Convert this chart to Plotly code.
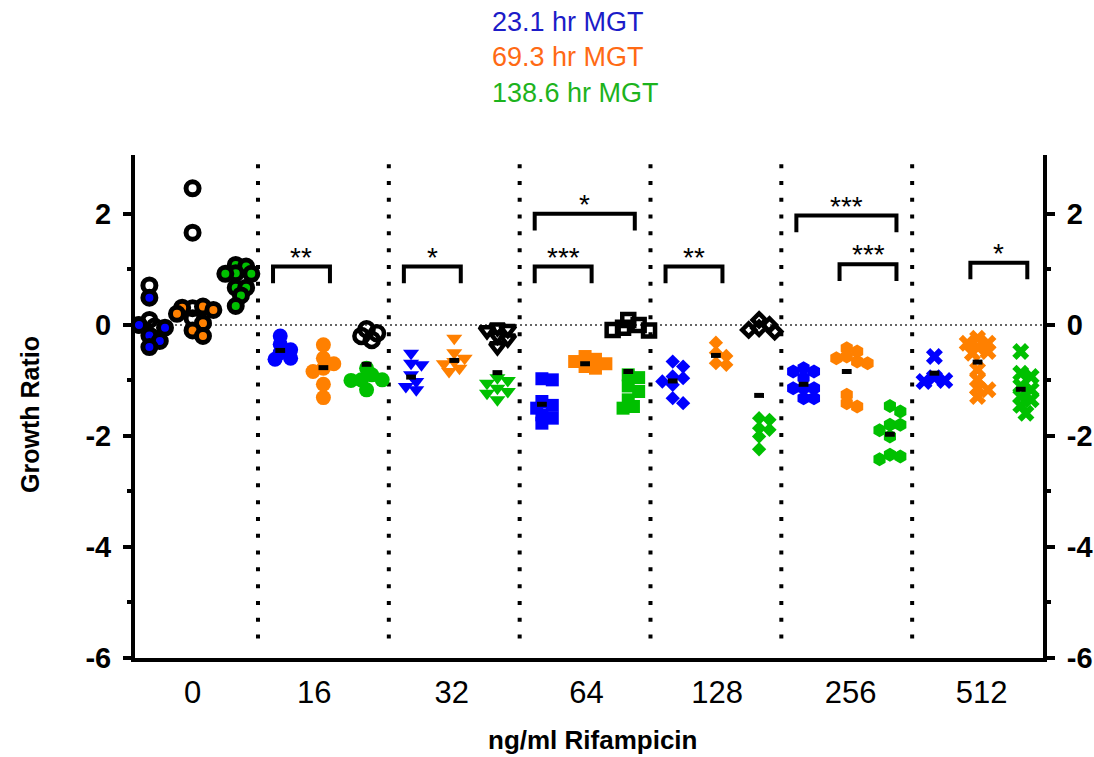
import math
import plotly.graph_objects as go

# ---------------- data ----------------
groups = ["0", "16", "32", "64", "128", "256", "512"]
group_symbols = ["circle", "circle", "triangle-down", "square", "diamond", "hexagon", "x"]

blue_vals = [
    [0.49, 0.0, -0.05, -0.19, -0.29, -0.40],
    [-0.2, -0.35, -0.45, -0.5, -0.6, -0.62],
    [-0.51, -0.69, -0.72, -0.9, -1.02, -1.11, -1.17],
    [-0.97, -0.99, -1.38, -1.45, -1.5, -1.62, -1.68, -1.77],
    [-0.66, -0.75, -0.93, -0.96, -1.02, -1.08, -1.32, -1.41],
    [-0.78, -0.84, -0.84, -0.95, -1.14, -1.14, -1.14, -1.32, -1.32],
    [-0.57, -0.95, -1.0, -1.02],
]
orange_vals = [
    [0.33, 0.31, 0.27, 0.2, 0.03, -0.1, -0.2],
    [-0.36, -0.6, -0.7, -0.78, -0.84, -1.07, -1.31],
    [-0.24, -0.5, -0.6, -0.66, -0.7, -0.78, -0.84],
    [-0.57, -0.62, -0.66, -0.7, -0.75, -0.78],
    [-0.32, -0.5, -0.56, -0.69, -0.72],
    [-0.42, -0.48, -0.57, -0.6, -0.66, -0.69, -1.26, -1.41, -1.47],
    [-0.24, -0.33, -0.33, -0.4, -0.48, -0.51, -0.81, -0.99, -1.14, -1.17, -1.29],
]
green_vals = [
    [1.08, 1.05, 0.93, 0.92, 0.92, 0.67, 0.67, 0.53, 0.34],
    [-0.78, -0.9, -0.99, -0.99, -1.0, -1.17],
    [-0.95, -1.0, -1.05, -1.14, -1.2, -1.23, -1.35],
    [-0.9, -0.95, -1.1, -1.2, -1.35, -1.47, -1.5],
    [-1.68, -1.71, -1.86, -1.89, -2.01, -2.24],
    [-1.46, -1.56, -1.8, -1.8, -1.9, -2.01, -2.34, -2.37, -2.42],
    [-0.48, -0.87, -0.93, -1.1, -1.17, -1.29, -1.35, -1.45, -1.59],
]
# black (open-marker) series
black_vals = [
    [2.46, 1.66, 0.3, 0.12],
    [-0.08, -0.15, -0.2, -0.27],
    [-0.05, -0.08, -0.1, -0.2, -0.25, -0.39],
    [0.09, 0.0, -0.05, -0.09, -0.1],
    [0.09, 0.0, -0.06, -0.09, -0.12],
    [],
    [],
]
black_slot = [1, 2, 2, 2, 2, 2, 2]
black_vals_0_first = [0.71, 0.09, -0.03]   # group "0", beside the blue points

mean_blue = [None, -0.46, -0.94, -1.43, -1.01, -1.07, -0.87]
mean_orange = [None, -0.77, -0.64, -0.70, -0.55, -0.84, -0.67]
mean_third = [None, -0.71, -0.86, -0.84, -1.27, -1.97, -1.16]

# significance brackets: (group, slot_from, slot_to, level, label)
brackets = [
    (1, 0, 1, 1.05, "**"),
    (2, 0, 1, 1.05, "*"),
    (3, 0, 2, 2.00, "*"),
    (3, 0, 1, 1.05, "***"),
    (4, 0, 1, 1.05, "**"),
    (5, 0, 2, 1.97, "***"),
    (5, 1, 2, 1.09, "***"),
    (6, 1, 2, 1.12, "*"),
]

legend_labels = ["23.1 hr MGT", "69.3 hr MGT", "138.6 hr MGT"]

# ---------------- styling / layout helpers ----------------
BLUE, ORANGE, GREEN = "#0000ff", "#ff8000", "#00c000"
LEG_COLORS = ["#1c1cc8", "#ff6a14", "#1db31d"]
FONT = "Liberation Sans"
slot_off = [0.17, 0.5, 0.83]
label_offsets = [0.5, 0.43, 0.48, 0.51, 0.51, 0.53, 0.53]
XR = [0.06, 7.0]
YR = [-6, 3.06]
PX_X = 908 / (XR[1] - XR[0])
PX_Y = 503 / (YR[1] - YR[0])
D_PX = 13.0

placed = {}


def swarm(vals, g, s):
    """deterministic compact beeswarm placement around a slot centre"""
    key = (g, s)
    pts = placed.setdefault(key, [])
    cx = g + slot_off[s]
    xs = [0.0] * len(vals)
    order = sorted(range(len(vals)), key=lambda k: -vals[k])
    step = D_PX * 0.4
    for k in order:
        yp = vals[k] * PX_Y
        off = 0.0
        for j in range(60):
            off = ((j + 1) // 2) * step * (1 if j % 2 == 1 else -1)
            if all(math.hypot(off - a, yp - b) >= D_PX * 0.6 for a, b in pts):
                break
        pts.append((off, yp))
        xs[k] = cx + off / PX_X
    return xs


fig = go.Figure()


def add_pts(vals, g, s, symbol, color, size, line_color=None, line_width=0):
    if not vals:
        return
    xs = swarm(vals, g, s)
    fig.add_trace(go.Scatter(
        x=xs, y=vals, mode="markers", hoverinfo="skip",
        marker=dict(symbol=symbol, color=color, size=size,
                    line=dict(color=line_color or color, width=line_width)),
    ))


sizes = {"circle": 15, "triangle-down": 14, "square": 13, "diamond": 11, "hexagon": 14, "x": 15}

for g in range(len(groups)):
    sym = group_symbols[g]
    if g == 0:
        add_pts(black_vals_0_first, g, 0, "circle-open", "black", 13, "black", 5)
        add_pts(blue_vals[g], g, 0, "circle", BLUE, 13, "black", 5)
        add_pts(black_vals[g], g, black_slot[g], "circle-open", "black", 13, "black", 5)
        add_pts(orange_vals[g], g, 1, "circle", ORANGE, 13, "black", 5)
        add_pts(green_vals[g], g, 2, "circle", GREEN, 13, "black", 5)
    else:
        sz = sizes[sym]
        add_pts(blue_vals[g], g, 0, sym, BLUE, sz)
        add_pts(orange_vals[g], g, 1, sym, ORANGE, sz)
        add_pts(black_vals[g], g, black_slot[g], sym + "-open", "black", sz - 1, "black", 4.5)
        add_pts(green_vals[g], g, 2, sym, GREEN, sz)

# mean bars
for s, means in enumerate([mean_blue, mean_orange, mean_third]):
    xs = [g + slot_off[s] for g, m in enumerate(means) if m is not None]
    ys = [m for m in means if m is not None]
    fig.add_trace(go.Scatter(
        x=xs, y=ys, mode="markers", hoverinfo="skip",
        marker=dict(symbol="line-ew", size=7, color="black", line=dict(color="black", width=5)),
    ))

# dummy trace for right axis
fig.add_trace(go.Scatter(x=[1], y=[0], yaxis="y2", mode="markers",
                         marker=dict(opacity=0), hoverinfo="skip"))

shapes = []
# group separators
for g in range(1, len(groups)):
    shapes.append(dict(type="line", xref="x", yref="y", x0=g, x1=g, y0=YR[0] + 0.35, y1=YR[1] - 0.03,
                       line=dict(color="black", width=4, dash="4px,12.8px"), layer="below"))
# zero line
shapes.append(dict(type="line", xref="x", yref="y", x0=XR[0], x1=XR[1], y0=0, y1=0,
                   line=dict(color="#333333", width=1.5, dash="2px,3px"), layer="below"))
annotations = []
LEG = 0.3
for g, a, b, lvl, lab in brackets:
    x0 = g + slot_off[a] - 0.055
    x1 = g + slot_off[b] + 0.05
    shapes.append(dict(type="path", xref="x", yref="y",
                       path=f"M{x0},{lvl - LEG} L{x0},{lvl} L{x1},{lvl} L{x1},{lvl - LEG}",
                       line=dict(color="black", width=4)))
    annotations.append(dict(x=(x0 + x1) / 2, y=lvl, xref="x", yref="y", text=lab, showarrow=False,
                            yanchor="bottom", yshift=-8, font=dict(family=FONT, size=28, color="black")))

for i, (lab, col) in enumerate(zip(legend_labels, LEG_COLORS)):
    annotations.append(dict(x=(490 - 135) / 908, y=(658 - (22 + 35.5 * i)) / 503, xref="paper", yref="paper",
                            text=lab, showarrow=False, xanchor="left", yanchor="middle",
                            font=dict(family=FONT, size=27, color=col)))

annotations.append(dict(x=(30 - 135) / 908, y=(658 - 415) / 503, xref="paper", yref="paper",
                        text="Growth Ratio", textangle=-90, showarrow=False,
                        xanchor="center", yanchor="middle",
                        font=dict(family=FONT, size=25, color="black", weight="bold")))
annotations.append(dict(x=(592 - 135) / 908, y=(658 - 740) / 503, xref="paper", yref="paper",
                        text="ng/ml Rifampicin", showarrow=False,
                        xanchor="center", yanchor="middle",
                        font=dict(family=FONT, size=26, color="black", weight="bold")))

ytick_vals = [-6, -4, -2, 0, 2]
ytick_text = ["-6", "-4", "-2", "0", "2"]
yaxis_common = dict(
    range=YR, showline=True, linewidth=4, linecolor="black", ticks="outside", ticklen=8,
    tickwidth=4, tickcolor="black", tickvals=ytick_vals, ticktext=ytick_text,
    tickfont=dict(family=FONT, size=29, color="black", weight="bold"),
    minor=dict(tickvals=[-5, -3, -1, 1], ticks="outside", ticklen=4, tickwidth=4, tickcolor="black"),
    showgrid=False, zeroline=False, fixedrange=True, ticklabelstandoff=6, automargin=False,
)

fig.update_layout(
    width=1094, height=757,
    margin=dict(l=135, r=51, t=155, b=99, autoexpand=False),
    plot_bgcolor="white", paper_bgcolor="white",
    showlegend=False,
    xaxis=dict(range=XR, showline=True, linewidth=4, linecolor="black", ticks="",
               tickvals=[i + o for i, o in enumerate(label_offsets)], ticktext=groups,
               tickfont=dict(family=FONT, size=31, color="black"),
               showgrid=False, zeroline=False, ticklabelstandoff=4, automargin=False),
    yaxis=dict(**yaxis_common),
    yaxis2=dict(**yaxis_common, overlaying="y", side="right"),
    shapes=shapes,
    annotations=annotations,
)

fig.write_html("out.html")
